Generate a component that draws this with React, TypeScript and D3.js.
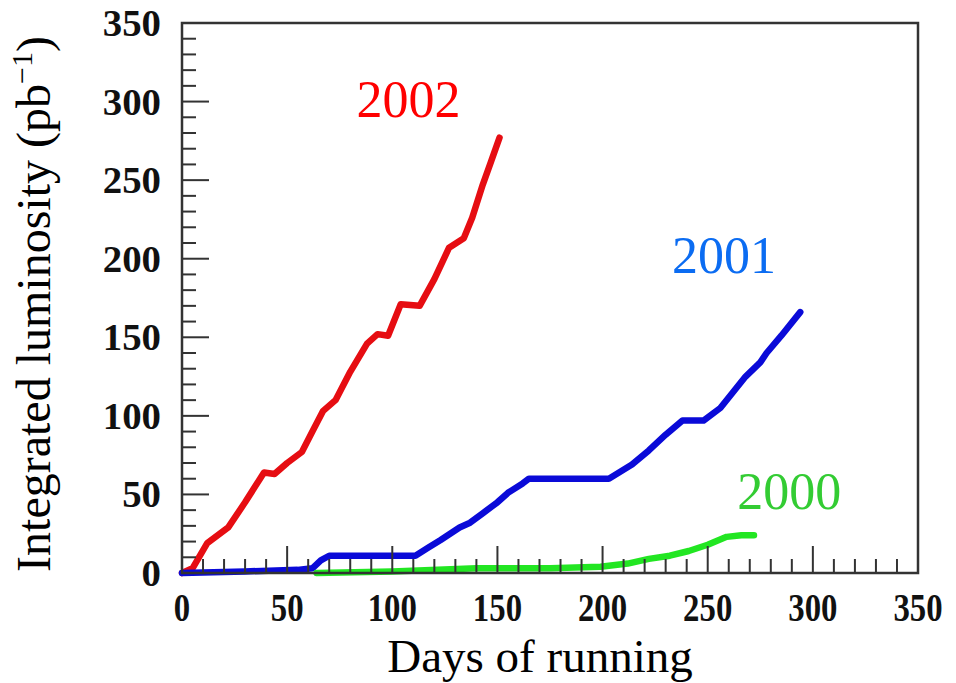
import React from "react";
import * as d3 from "d3";

// days of running / integrated luminosity (pb^-1)
const days2002 = [0, 5, 12, 22, 30, 39, 44, 50, 57, 62, 67, 73, 80, 88, 93, 98, 104, 113, 120, 127, 134, 138, 143, 147, 151];
const lumi2002 = [0, 3, 19, 29, 45, 64, 63, 70, 77, 90, 103, 110, 128, 146, 152, 151, 171, 170, 187, 207, 213, 226, 247, 262, 277];

const days2001 = [0, 30, 55, 62, 66, 70, 90, 111, 117, 123, 132, 137, 143, 150, 155, 162, 165, 185, 203, 214, 222, 230, 238, 248, 256, 262, 268, 275, 278, 285, 294];
const lumi2001 = [0, 1, 2, 3, 8, 11, 11, 11, 16, 21, 29, 32, 38, 45, 51, 57, 60, 60, 60, 69, 78, 88, 97, 97, 105, 115, 125, 134, 140, 151, 166];

const days2000 = [64, 100, 140, 175, 199, 212, 222, 232, 241, 250, 259, 266, 272];
const lumi2000 = [0, 1, 3, 3, 4, 6, 9, 11, 14, 18, 23, 24, 24];

const xTicks = [0, 50, 100, 150, 200, 250, 300, 350];
const yTicks = [0, 50, 100, 150, 200, 250, 300, 350];

const series = [
  { name: "2002", days: days2002, lumi: lumi2002, line: "#e60d12", text: "#ff0000", at: [83, 290] },
  { name: "2001", days: days2001, lumi: lumi2001, line: "#0a0ad8", text: "#0b6cf2", at: [233, 191] },
  { name: "2000", days: days2000, lumi: lumi2000, line: "#22e622", text: "#33cc33", at: [264, 41] },
];

const width = 956;
const height = 683;
const margin = { top: 23, right: 38, bottom: 110, left: 182 };

export default function App() {
  const x = d3.scaleLinear().domain([0, 350]).range([margin.left, width - margin.right]);
  const y = d3.scaleLinear().domain([0, 350]).range([height - margin.bottom, margin.top]);
  const line = d3
    .line<[number, number]>()
    .x((d) => x(d[0]))
    .y((d) => y(d[1]));

  const minor = d3.range(0, 351, 10);
  const serif = "'Liberation Serif', 'Times New Roman', serif";

  return (
    <svg
      width={width}
      height={height}
      style={{ position: "absolute", left: 0, top: 0, background: "#fff" }}
      fontFamily={serif}
    >
      {/* curves */}
      {series.map((s) => (
        <path
          key={s.name}
          d={line(s.days.map((d, i) => [d, s.lumi[i]] as [number, number])) || ""}
          fill="none"
          stroke={s.line}
          strokeWidth={6.5}
          strokeLinejoin="round"
          strokeLinecap="round"
        />
      ))}

      {/* ticks */}
      {minor.map((t) => (
        <line
          key={"xt" + t}
          x1={x(t)}
          x2={x(t)}
          y1={y(0)}
          y2={y(0) - (t % 50 === 0 ? 27 : 14)}
          stroke="#333"
          strokeWidth={2}
        />
      ))}
      {minor.map((t) => (
        <line
          key={"yt" + t}
          y1={y(t)}
          y2={y(t)}
          x1={x(0)}
          x2={x(0) + (t % 50 === 0 ? 27 : 14)}
          stroke="#333"
          strokeWidth={2}
        />
      ))}

      {/* frame */}
      <rect
        x={x(0)}
        y={y(350)}
        width={x(350) - x(0)}
        height={y(0) - y(350)}
        fill="none"
        stroke="#333"
        strokeWidth={2.5}
      />

      {/* tick labels */}
      {xTicks.map((t) => (
        <g key={"xl" + t} transform={`translate(${x(t)},${y(0) + 48}) scale(0.82,1)`}>
          <text textAnchor="middle" fontWeight="bold" fontSize={40} fill="#111">
            {t}
          </text>
        </g>
      ))}
      {yTicks.map((t) => (
        <g key={"yl" + t} transform={`translate(${x(0) - 21},${y(t) + 13}) scale(1.05,1)`}>
          <text textAnchor="end" fontWeight="bold" fontSize={37} fill="#111">
            {t}
          </text>
        </g>
      ))}

      {/* axis titles */}
      <text x={(x(0) + x(350)) / 2 - 10} y={672} textAnchor="middle" fontSize={47} fill="#000">
        Days of running
      </text>
      <text
        transform={`translate(50,${(y(0) + y(350)) / 2 + 6}) rotate(-90)`}
        textAnchor="middle"
        fontSize={48}
        fill="#000"
      >
        Integrated luminosity (pb
        <tspan fontSize={30} dy={-18}>
          −1
        </tspan>
        <tspan dy={18}>)</tspan>
      </text>

      {/* series labels */}
      {series.map((s) => (
        <text key={"lab" + s.name} x={x(s.at[0])} y={y(s.at[1])} fontSize={52} fill={s.text}>
          {s.name}
        </text>
      ))}
    </svg>
  );
}
